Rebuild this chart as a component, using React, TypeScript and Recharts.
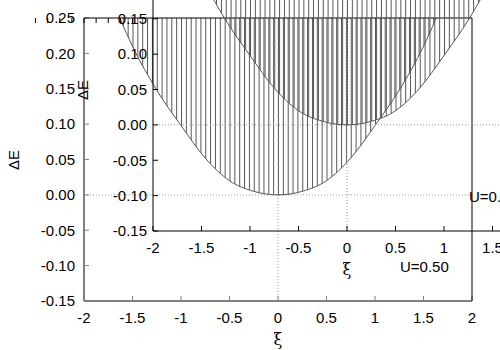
import { ComposedChart, Area, Line, XAxis, YAxis, ReferenceLine } from "recharts";

// xi grid and the dispersion (same curve in both panels)
const xiValues = [-2, -1.75, -1.5, -1.25, -1, -0.75, -0.5, -0.25, 0, 0.25, 0.5, 0.75, 1, 1.25, 1.5, 1.75, 2];
const dEValues = [0.38, 0.29, 0.21, 0.148, 0.098, 0.052, 0.02, 0.005, 0, 0.005, 0.02, 0.052, 0.098, 0.148, 0.21, 0.29, 0.38];
const xTicks = [-2, -1.5, -1, -0.5, 0, 0.5, 1, 1.5, 2];
const yTicks = [-0.15, -0.1, -0.05, 0, 0.05, 0.1, 0.15, 0.2, 0.25];
const yTop = 0.25;
const uLabel = "U=0.50";

const data = xiValues.map((x, i) => ({ xi: x, dE: dEValues[i], band: [dEValues[i], yTop] }));

const W = 500;
const H = 350;
const font = "'Liberation Sans', Arial, Helvetica, sans-serif";

function Panel({ left, top, inset }: { left: number; top: number; inset: boolean }) {
  const id = inset ? "hatch-inset" : "hatch-main";
  const axisColor = inset ? "#000" : "#808080";
  const axisWidth = inset ? 1 : 2;
  return (
    <div style={{ position: "absolute", left, top, width: W, height: H }}>
      <ComposedChart
        width={W}
        height={H}
        data={data}
        margin={{ top: inset ? 18 : 0, right: inset ? 28 : 0, bottom: 0, left: 0 }}
      >
        <defs>
          <pattern id={id} x={84} y={0} width={4.85} height={10} patternUnits="userSpaceOnUse">
            <line x1={0.5} y1={0} x2={0.5} y2={10} stroke="#555" strokeWidth={1} />
          </pattern>
        </defs>
        <XAxis
          dataKey="xi"
          type="number"
          domain={[-2, 2]}
          ticks={xTicks}
          allowDataOverflow
          height={49}
          axisLine={{ stroke: axisColor, strokeWidth: axisWidth }}
          tickLine={{ stroke: axisColor }}
          tickSize={-5}
          tickMargin={16}
          tick={{ fill: "#000", fontSize: 15 }}
          interval={0}
        />
        <YAxis
          type="number"
          domain={[-0.15, 0.25]}
          ticks={yTicks}
          allowDataOverflow
          width={84}
          axisLine={{ stroke: axisColor, strokeWidth: axisWidth }}
          tickLine={{ stroke: axisColor }}
          tickSize={-5}
          tickMargin={inset ? 11 : 14}
          tick={{ fill: "#000", fontSize: 15 }}
          tickFormatter={(v: number) => v.toFixed(2)}
          interval={0}
        />
        {!inset && (
          <XAxis
            xAxisId="top"
            orientation="top"
            type="number"
            domain={[-2, 2]}
            ticks={xTicks}
            height={18}
            axisLine={{ stroke: "#000" }}
            tickLine={{ stroke: "#000" }}
            tickSize={-5}
            tickFormatter={() => ""}
            interval={0}
          />
        )}
        {!inset && (
          <YAxis
            yAxisId="right"
            orientation="right"
            type="number"
            domain={[-0.15, 0.25]}
            ticks={yTicks}
            width={28}
            axisLine={{ stroke: "#000" }}
            tickLine={{ stroke: "#000" }}
            tickSize={-5}
            tickFormatter={() => ""}
            interval={0}
          />
        )}
        <ReferenceLine x={0} stroke="#999" strokeDasharray="1 2" />
        <ReferenceLine y={0} stroke="#999" strokeDasharray="1 2" />
        <Area
          type="monotone"
          dataKey="band"
          stroke="none"
          fill={`url(#${id})`}
          fillOpacity={1}
          isAnimationActive={false}
        />
        <Line
          type="monotone"
          dataKey="dE"
          stroke="#555"
          strokeWidth={1}
          dot={false}
          isAnimationActive={false}
        />
      </ComposedChart>
      <div
        style={{
          position: "absolute",
          left: 13,
          top: 160,
          transform: "translate(-50%, -50%) rotate(-90deg)",
          fontSize: 15,
          whiteSpace: "nowrap",
        }}
      >
        ΔE
      </div>
      <div
        style={{
          position: "absolute",
          left: 278,
          top: 339,
          transform: "translate(-50%, -50%)",
          fontSize: 16,
          fontFamily: "'DejaVu Serif', serif",
        }}
      >
        ξ
      </div>
      <div
        style={{
          position: "absolute",
          left: 400,
          top: 266,
          transform: "translateY(-50%)",
          fontSize: 15,
          whiteSpace: "nowrap",
        }}
      >
        {uLabel}
      </div>
    </div>
  );
}

export default function App() {
  return (
    <div
      style={{
        position: "absolute",
        left: 0,
        top: 0,
        width: W,
        height: H,
        overflow: "hidden",
        background: "#fff",
        fontFamily: font,
        color: "#000",
      }}
    >
      <Panel left={0} top={0} inset={false} />
      <Panel left={69} top={-70} inset={true} />
    </div>
  );
}
